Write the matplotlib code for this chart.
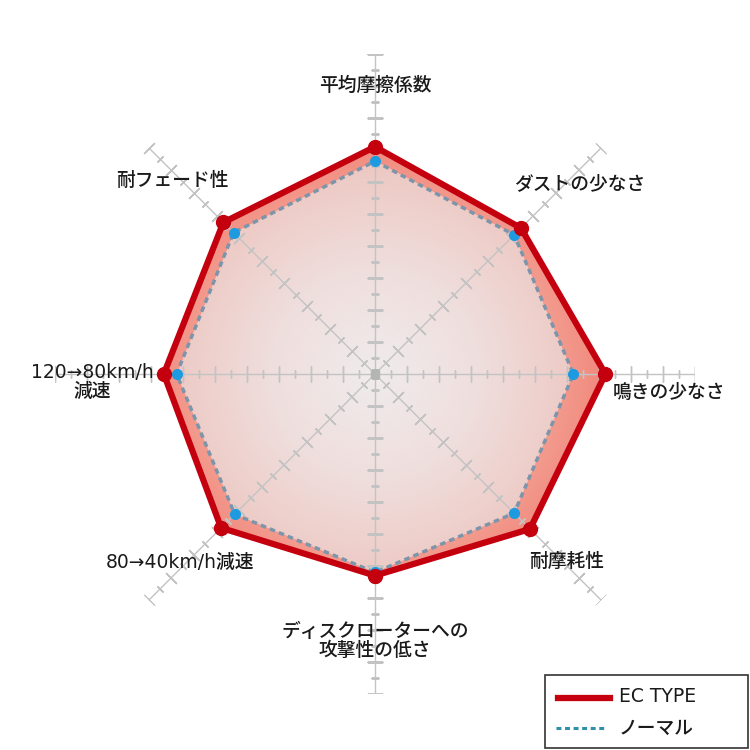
import numpy as np
import matplotlib
matplotlib.use("Agg")
import matplotlib.pyplot as plt
from matplotlib.colors import LinearSegmentedColormap, Normalize
from matplotlib.lines import Line2D
from matplotlib.patches import Rectangle

plt.rcParams['font.family'] = ['DejaVu Sans', 'Noto Sans CJK JP']

categories = ["平均摩擦係数", "ダストの少なさ", "鳴きの少なさ", "耐摩耗性",
              "ディスクローターへの\n攻撃性の低さ", "80→40km/h減速", "120→80km/h\n減速", "耐フェード性"]
ec_type = [7.1, 6.45, 7.2, 6.85, 6.3, 6.8, 6.6, 6.7]
normal = [6.65, 6.15, 6.2, 6.15, 6.2, 6.2, 6.2, 6.25]
series_names = ["EC TYPE", "ノーマル"]
r_max = 10

n = len(categories)
theta = np.arange(n) * 2 * np.pi / n

fig = plt.figure(figsize=(7.5, 7.5), dpi=100)
ax = fig.add_axes([55/750, (750-374-320)/750, 640/750, 640/750], projection='polar')
ax.set_theta_zero_location('N')
ax.set_theta_direction(-1)
ax.set_ylim(0, r_max)
ax.grid(False)
ax.set_xticks([])
ax.set_yticks([])
ax.spines['polar'].set_visible(False)
ax.patch.set_alpha(0)

th_c = np.concatenate([theta, theta[:1]])
ec_c = np.concatenate([ec_type, ec_type[:1]])
no_c = np.concatenate([normal, normal[:1]])

# gradient fills
T, R = np.meshgrid(np.linspace(0, 2*np.pi, 361), np.linspace(0, r_max, 121))
band_cmap = LinearSegmentedColormap.from_list('band', [(0, (0.965, 0.74, 0.70)), (0.6, (0.96, 0.68, 0.63)),
                                                       (1, (0.94, 0.53, 0.48))])
inner_cmap = LinearSegmentedColormap.from_list('inner', [(0, (0.94, 0.925, 0.925)), (0.5, (0.935, 0.875, 0.87)),
                                                         (1, (0.93, 0.79, 0.77))])
ec_patch = ax.fill(th_c, ec_c, facecolor='none', edgecolor='none')[0]
no_patch = ax.fill(th_c, no_c, facecolor='none', edgecolor='none')[0]
m1 = ax.pcolormesh(T, R, R, cmap=band_cmap, norm=Normalize(0, 7.3), shading='gouraud', zorder=1)
m1.set_clip_path(ec_patch)
m2 = ax.pcolormesh(T, R, R, cmap=inner_cmap, norm=Normalize(0, 6.3), shading='gouraud', zorder=1.5)
m2.set_clip_path(no_patch)

# axes with ticks
gc = '#c3c3c3'
major = np.arange(1, r_max + 1)
minor = np.arange(0.5, r_max, 1.0)
for t in theta:
    ax.plot([t, t], [0, r_max], color=gc, lw=1, zorder=2)
    ang = 90 - np.degrees(t)
    ax.plot(np.full(len(major), t), major, ls='none', marker=(2, 2, ang), ms=11,
            mec=gc, mew=1, zorder=2)
    ax.plot(np.full(len(minor), t), minor, ls='none', marker=(2, 2, ang), ms=6,
            mec=gc, mew=1, zorder=2)
ax.plot([0], [0], marker='s', ms=6, color='#b5b5b5', zorder=2)

# series
ax.plot(th_c, no_c, color='#7d95aa', lw=2.5, ls=(0, (1.6, 1.2)), zorder=3)
ax.plot(theta, normal, ls='none', marker='o', ms=7, color='#1e9be0', zorder=3)
ax.plot(th_c, ec_c, color='#c4000f', lw=4.5, solid_joinstyle='miter', zorder=4)
ax.plot(theta, ec_type, ls='none', marker='o', ms=10, color='#c4000f', zorder=4)

# category labels (pixel positions)
label_pos = [(375, 85, 'center'), (580, 184, 'center'), (613, 392, 'left'), (567, 561, 'center'),
             (375, 641, 'center'), (180, 562, 'center'), (92, 382, 'center'), (172, 180, 'center')]
for lab, (x, y, ha) in zip(categories, label_pos):
    fig.text(x/750, 1 - y/750, lab, ha=ha, va='center', fontsize=13.5, color='#1a1a1a',
             fontweight='medium', linespacing=1.0)

# legend box (drawn manually to match the reference frame)
fig.patches.append(Rectangle((545/750, 2/750), 203/750, 73/750, transform=fig.transFigure,
                             facecolor='white', edgecolor='#333333', lw=1.2, zorder=5))
fig.lines.append(Line2D([558/750, 610/750], [1 - 698/750] * 2, transform=fig.transFigure,
                        color='#c4000f', lw=4.5, zorder=6))
fig.lines.append(Line2D([556/750, 606/750], [1 - 728/750] * 2, transform=fig.transFigure,
                        color='#2f8fa8', lw=2.2, ls=(0, (1.6, 1.2)), zorder=6))
for name, y in zip(series_names, [697, 728]):
    fig.text(619/750, 1 - y/750, name, ha='left', va='center', fontsize=13.5, color='#1a1a1a',
             fontweight='medium', zorder=6)

fig.savefig('out.png', dpi=100, facecolor='white')
